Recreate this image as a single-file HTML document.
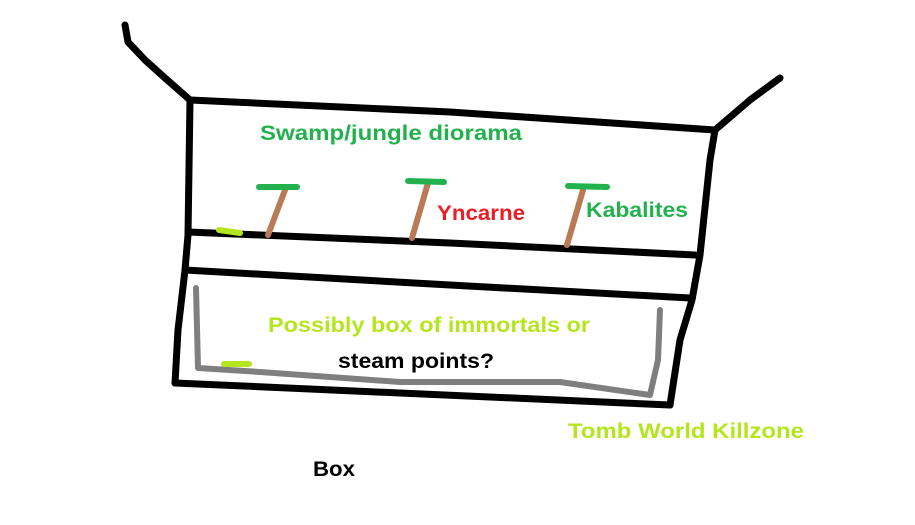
<!DOCTYPE html>
<html><head><meta charset="utf-8"><style>
html,body{margin:0;padding:0;background:#fff;}
svg{display:block}
text{font-family:"Liberation Sans",sans-serif;font-weight:bold;font-size:21px;}
</style></head><body>
<svg width="915" height="525" viewBox="0 0 915 525" xmlns="http://www.w3.org/2000/svg">
<g fill="none" stroke="#000" stroke-width="7" stroke-linecap="round" stroke-linejoin="round">
<polyline points="125,25 128,42 145,60 165,78 190,100"/>
<polyline points="780,78 750,100 715,130"/>
<polyline points="190,100 450,112 715,130"/>
<polyline points="190,100 188,235 185,270 178,330 175,383"/>
<polyline points="715,130 710,160 700,255 692,300 680,340 670,405"/>
<polyline points="188,232 450,243 695,255"/>
<polyline points="185,270 450,285 690,298"/>
<polyline points="175,383 400,393 670,405"/>
</g>
<polyline fill="none" stroke="#7f7f7f" stroke-width="6" stroke-linecap="round" stroke-linejoin="round" points="196,288 198,368 260,372 400,382 560,382 650,395 658,360 660,310"/>
<g stroke="#b5e61d" stroke-width="6" stroke-linecap="round">
<line x1="224" y1="364" x2="249" y2="364"/>
<line x1="219" y1="230" x2="240" y2="233"/>
</g>
<g stroke="#b97a57" stroke-width="6" stroke-linecap="round">
<line x1="285" y1="190" x2="268" y2="235"/>
<line x1="428" y1="183" x2="412" y2="238"/>
<line x1="583" y1="190" x2="567" y2="245"/>
</g>
<g stroke="#22b14c" stroke-width="6" stroke-linecap="round">
<line x1="259" y1="187" x2="297" y2="187"/>
<line x1="408" y1="181" x2="444" y2="182"/>
<line x1="568" y1="186" x2="607" y2="187"/>
</g>
<text x="260" y="140" fill="#22b14c" textLength="262" lengthAdjust="spacingAndGlyphs">Swamp/jungle diorama</text>
<text x="437" y="220" fill="#ed1c24" textLength="88" lengthAdjust="spacingAndGlyphs">Yncarne</text>
<text x="586" y="217" fill="#22b14c" textLength="102" lengthAdjust="spacingAndGlyphs">Kabalites</text>
<text x="268" y="332" fill="#b5e61d" textLength="322" lengthAdjust="spacingAndGlyphs">Possibly box of immortals or</text>
<text x="338" y="368" fill="#000" textLength="156" lengthAdjust="spacingAndGlyphs">steam points?</text>
<text x="568" y="438" fill="#b5e61d" textLength="236" lengthAdjust="spacingAndGlyphs">Tomb World Killzone</text>
<text x="313" y="476" fill="#000" textLength="42" lengthAdjust="spacingAndGlyphs">Box</text>
</svg>
</body></html>
